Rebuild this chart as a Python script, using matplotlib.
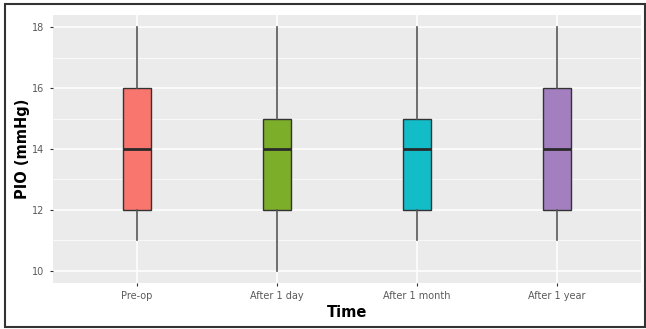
import matplotlib.pyplot as plt
from matplotlib.patches import Rectangle

# boxplot stats
groups = ["Pre-op", "After 1 day", "After 1 month", "After 1 year"]
whislo = [11, 10, 11, 11]
q1 = [12, 12, 12, 12]
med = [14, 14, 14, 14]
q3 = [16, 15, 15, 16]
whishi = [18, 18, 18, 18]
colors = ["#F8766D", "#7CAE2A", "#12BDC8", "#A47FC0"]

stats = []
for i, g in enumerate(groups):
    stats.append({"label": g, "whislo": whislo[i], "q1": q1[i], "med": med[i],
                  "q3": q3[i], "whishi": whishi[i], "fliers": []})

fig = plt.figure(figsize=(6.46, 3.29), dpi=100)
ax = fig.add_axes([53 / 646, 1 - 283 / 329, 588 / 646, 268 / 329])
ax.set_facecolor("#EBEBEB")

pos = list(range(1, len(groups) + 1))
bp = ax.bxp(stats, positions=pos, widths=0.2, patch_artist=True, showcaps=False,
            boxprops=dict(edgecolor="#333333", linewidth=1.0),
            whiskerprops=dict(color="#555555", linewidth=1.2),
            medianprops=dict(color="#2a2a2a", linewidth=2.0), zorder=3)
for patch, c in zip(bp["boxes"], colors):
    patch.set_facecolor(c)

ax.set_xlim(0.4, 4.6)
ax.set_ylim(9.6, 18.4)
ax.set_yticks([10, 12, 14, 16, 18])
ax.set_yticks([11, 13, 15, 17], minor=True)
ax.set_xticks(pos)
ax.set_xticklabels(groups)
ax.grid(True, which="major", color="white", linewidth=1.1, zorder=0)
ax.grid(True, which="minor", axis="y", color="white", linewidth=0.5, zorder=0)
ax.set_axisbelow(True)
for s in ax.spines.values():
    s.set_visible(False)
ax.tick_params(axis="both", which="major", labelsize=7, labelcolor="#5A5A5A",
               color="#333333", length=2.5, width=0.8, pad=3)
ax.tick_params(axis="y", which="major", pad=4)
ax.tick_params(axis="both", which="minor", length=0)

ax.set_xlabel("Time", fontsize=10.5, fontweight="bold", labelpad=3)
ax.set_ylabel("PIO (mmHg)", fontsize=10.5, fontweight="bold", labelpad=1)

# outer frame
fig.patches.append(Rectangle((5 / 646, 2 / 329), 640 / 646, 323 / 329,
                             transform=fig.transFigure, fill=False,
                             edgecolor="#333333", linewidth=1.5))

plt.savefig("out.png", dpi=100)
